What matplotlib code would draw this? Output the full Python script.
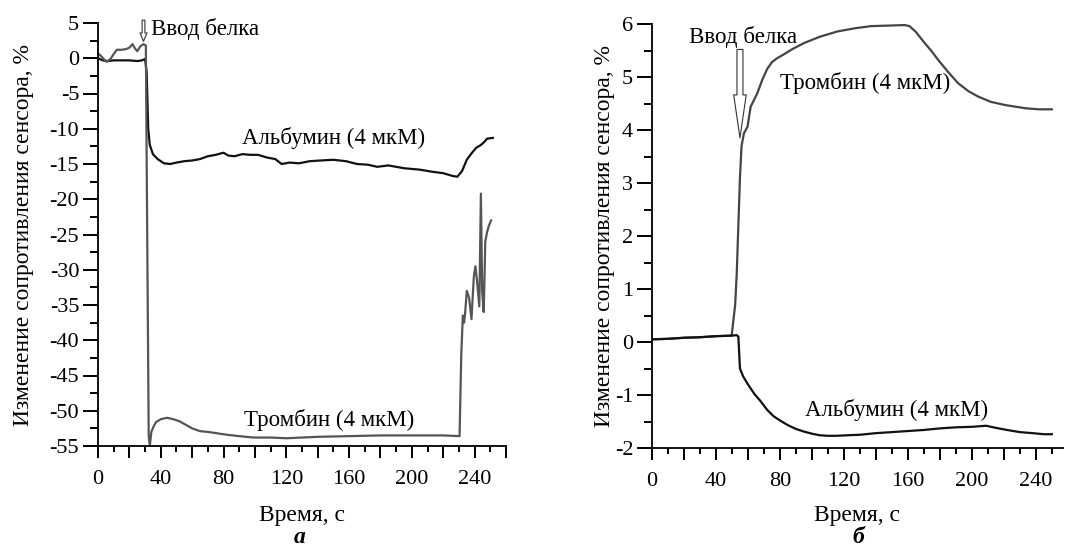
import matplotlib
matplotlib.use("Agg")
import matplotlib.pyplot as plt
from matplotlib.ticker import MultipleLocator, FuncFormatter

plt.rcParams['font.family'] = ['Liberation Serif', 'DejaVu Serif']
plt.rcParams['font.size'] = 16
plt.rcParams['axes.unicode_minus'] = False

# --- панель а ---
alb_a_x = [0, 3, 6, 10, 15, 20, 25, 28, 30, 31, 32, 33, 35, 38, 42, 46, 50, 55, 60, 65,
           70, 75, 80, 83, 87, 92, 97, 102, 108, 113, 117, 122, 128, 135, 142, 150, 158,
           165, 172, 178, 185, 195, 205, 213, 220, 226, 229, 232, 235, 238, 241, 244,
           246, 248, 251.6]
alb_a_y = [0.0, -0.3, -0.4, -0.3, -0.3, -0.3, -0.4, -0.3, -0.1, -2.0, -10.0, -12.3,
           -13.6, -14.3, -14.9, -15.0, -14.8, -14.6, -14.5, -14.3, -13.9, -13.7, -13.4,
           -13.8, -13.9, -13.6, -13.7, -13.7, -14.1, -14.3, -15.0, -14.8, -14.9, -14.6,
           -14.5, -14.4, -14.6, -15.0, -15.1, -15.4, -15.2, -15.6, -15.8, -16.1, -16.3,
           -16.7, -16.8, -16.0, -14.4, -13.5, -12.7, -12.3, -11.9, -11.4, -11.3]

thr_a_x = [0, 2, 4, 5.5, 8, 10, 12, 15, 18, 20, 22, 23.5, 25, 27, 29, 30.5, 31.2, 32.3,
           33, 34, 35.5, 37, 40, 44, 48, 52, 56, 60, 65, 70, 76, 82, 90, 99, 110, 120,
           140, 160, 180, 200, 220, 230.4, 231.5, 232.5, 233.3, 234, 235, 236.5, 238,
           239.5, 240.5, 241.5, 243, 244, 244.8, 245.8, 246.8, 247.8, 249, 250.5]
thr_a_y = [0.7, 0.3, -0.2, -0.5, -0.1, 0.6, 1.2, 1.2, 1.3, 1.5, 2.0, 1.4, 1.0, 1.7, 2.0,
           1.8, -20, -53.5, -55, -53, -52.2, -51.6, -51.2, -51.0, -51.2, -51.5, -52.0,
           -52.5, -52.9, -53.0, -53.2, -53.4, -53.6, -53.8, -53.8, -53.9, -53.7, -53.6,
           -53.5, -53.5, -53.5, -53.6, -42, -36.5, -37.5, -36, -33, -34, -37, -31,
           -29.5, -31.5, -35.2, -19.2, -33, -36, -26, -24.8, -23.8, -23]

# --- панель б ---
alb_b_x = [0, 10, 20, 30, 40, 50, 53, 54, 55, 57, 60, 64, 68, 72, 76, 80, 85, 90, 95,
           100, 105, 110, 115, 122, 130, 140, 150, 160, 170, 180, 190, 200, 209, 215,
           222, 230, 238, 245, 250]
alb_b_y = [0.05, 0.06, 0.08, 0.09, 0.11, 0.12, 0.13, 0.1, -0.5, -0.65, -0.8, -0.98,
           -1.12, -1.28, -1.4, -1.48, -1.57, -1.64, -1.69, -1.73, -1.76, -1.77, -1.77,
           -1.76, -1.75, -1.72, -1.7, -1.68, -1.66, -1.63, -1.61, -1.6, -1.58, -1.62,
           -1.66, -1.7, -1.72, -1.74, -1.74]

thr_b_x = [0, 10, 20, 30, 40, 49.8, 52, 53, 54, 55, 56, 57.5, 59.7, 61.7, 63.5, 65.8,
           69, 72, 75, 78, 82, 88, 95, 105, 116, 127, 137, 148, 158, 161, 165, 170, 175,
           179, 185, 191.5, 198, 204, 212, 221, 233.5, 242, 250]
thr_b_y = [0.05, 0.06, 0.08, 0.09, 0.11, 0.12, 0.7, 1.3, 2.2, 3.1, 3.7, 3.94, 4.06,
           4.44, 4.55, 4.69, 4.95, 5.15, 5.28, 5.35, 5.42, 5.53, 5.64, 5.76, 5.86, 5.92,
           5.96, 5.97, 5.98, 5.96, 5.85, 5.66, 5.48, 5.32, 5.1, 4.88, 4.73, 4.63, 4.53,
           4.47, 4.41, 4.39, 4.39]

ylabel = "Изменение сопротивления сенсора, %"
xlabel = "Время, с"

W, H = 1072, 547
fig = plt.figure(figsize=(W / 100, H / 100), dpi=100)

ax1 = fig.add_axes([98 / W, 1 - 446 / H, 408 / W, 423 / H])
ax2 = fig.add_axes([652 / W, 1 - 448 / H, 411 / W, 424 / H])

black = '#111111'
grey = '#555555'

ax1.plot(alb_a_x, alb_a_y, color=black, lw=1.6)
ax1.plot(thr_a_x, thr_a_y, color=grey, lw=1.6)
ax2.plot(thr_b_x, thr_b_y, color='#444444', lw=1.6)
ax2.plot(alb_b_x, alb_b_y, color=black, lw=1.6)

# подписи только на 0, 40, 80 ...
every40 = FuncFormatter(lambda v, pos: f"{int(round(v))}" if round(v) % 40 == 0 else "")

for ax in (ax1, ax2):
    for s in ('top', 'right'):
        ax.spines[s].set_visible(False)
    for s in ('left', 'bottom'):
        ax.spines[s].set_linewidth(1.4)
        ax.spines[s].set_color('#111111')
    ax.xaxis.set_major_locator(MultipleLocator(20))
    ax.xaxis.set_major_formatter(every40)
    ax.xaxis.set_minor_locator(MultipleLocator(10))
    ax.tick_params(axis='x', which='major', length=8.5, width=1.4, pad=9, labelsize=16)
    ax.tick_params(axis='x', which='minor', length=4.3, width=1.4)
    ax.tick_params(axis='y', which='major', length=10.5, width=1.4, pad=3, labelsize=16)
    ax.tick_params(axis='y', which='minor', length=5.5, width=1.4)

ax1.set_xlabel(xlabel, fontsize=17, labelpad=11)
ax2.set_xlabel(xlabel, fontsize=17, labelpad=10)
ax1.set_ylabel(ylabel, fontsize=17, labelpad=11)
ax2.set_ylabel(ylabel, fontsize=17, labelpad=0)

ax1.set_xlim(0, 260)
ax1.set_ylim(-55, 5)
ax1.set_yticks(range(-55, 6, 5))
ax1.yaxis.set_minor_locator(MultipleLocator(2.5))

ax2.set_xlim(0, 257)
ax2.set_ylim(-2, 6)
ax2.set_yticks(range(-2, 7))
ax2.yaxis.set_minor_locator(MultipleLocator(0.5))

# подписи кривых
ax1.text(150, -11.3, "Альбумин (4 мкМ)", ha='center', va='center', fontsize=16.5)
ax1.text(147, -51.3, "Тромбин (4 мкМ)", ha='center', va='center', fontsize=16.5)
ax1.text(34.0, 4.2, "Ввод белка", ha='left', va='center', fontsize=16.5, clip_on=False)
ax1.annotate('', xy=(29, 2.4), xytext=(29, 5.4), annotation_clip=False,
             arrowprops=dict(arrowstyle='simple,head_length=6,head_width=5,tail_width=2',
                             mutation_scale=1, fc='white', ec='#333333', lw=0.8,
                             shrinkA=0, shrinkB=0))

ax2.text(133, 4.88, "Тромбин (4 мкМ)", ha='center', va='center', fontsize=16.5)
ax2.text(153, -1.28, "Альбумин (4 мкМ)", ha='center', va='center', fontsize=16.5)
ax2.text(57, 5.76, "Ввод белка", ha='center', va='center', fontsize=16.5)
ax2.annotate('', xy=(55, 3.85), xytext=(55, 5.52),
             arrowprops=dict(arrowstyle='simple,head_length=31,head_width=9,tail_width=4.3',
                             mutation_scale=1, fc='white', ec='#333333', lw=0.8,
                             shrinkA=0, shrinkB=0))

fig.text(300 / W, 1 - 543 / H, "а", ha='center', va='baseline', fontsize=17,
         fontweight='bold', fontstyle='italic')
fig.text(858 / W, 1 - 543 / H, "б", ha='center', va='baseline', fontsize=17,
         fontweight='bold', fontstyle='italic')

fig.savefig("out.png", dpi=100)
